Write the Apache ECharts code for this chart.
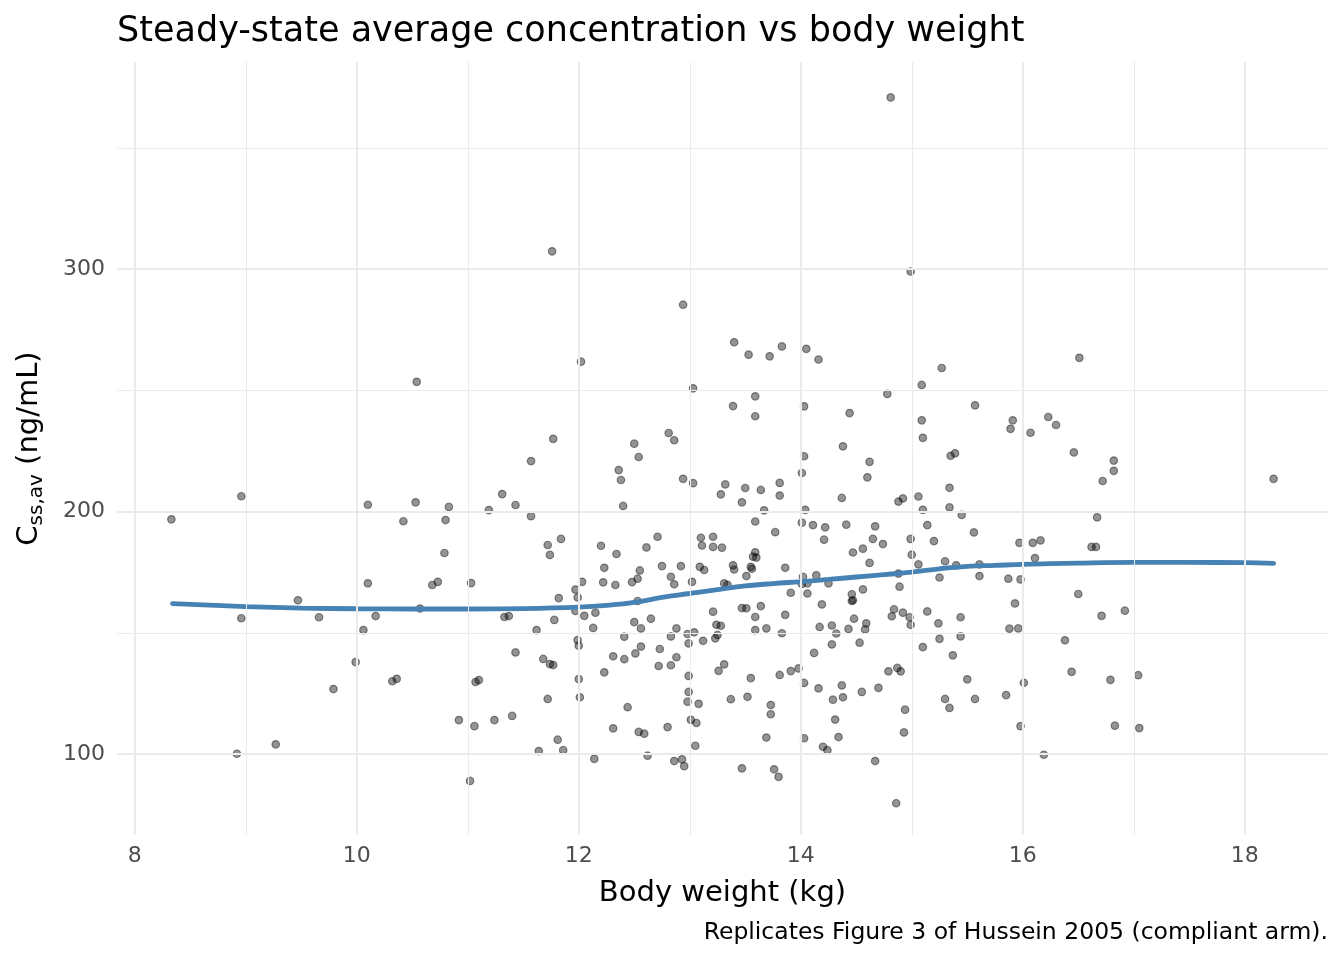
<!DOCTYPE html>
<html>
<head>
<meta charset="utf-8">
<script src="https://cdn.jsdelivr.net/npm/echarts@6/dist/echarts.min.js"></script>
<style>
html,body{margin:0;padding:0;background:#fff;}
#chart{width:1344px;height:960px;}
</style>
</head>
<body>
<div id="chart"></div>
<script>
// ---- data ----
const bodyWeight = [
  8.33, 8.96, 8.96, 8.92, 9.27, 9.47, 9.66, 9.79, 9.99, 10.06, 10.10, 10.10, 10.17, 10.32, 10.36, 10.42, 10.53, 10.54, 10.57,
  10.68, 10.73, 10.79, 10.80, 10.83, 10.92, 11.02, 11.03, 11.06, 11.07,
  11.10, 11.19, 11.24, 11.31, 11.33, 11.37, 11.40, 11.43, 11.43, 11.57,
  11.57, 11.62, 11.64, 11.68, 11.72, 11.72, 11.74, 11.74, 11.77, 11.76,
  11.77, 11.78, 11.81, 11.82, 11.84, 11.86, 11.97, 11.99, 12.03, 11.97,
  12.05, 12.15, 12.13, 11.99, 12.00, 12.00, 12.01, 12.02, 12.14, 12.20,
  12.34, 12.23, 12.22, 12.33, 12.48, 12.53, 12.55, 12.61, 12.71, 12.75,
  12.83, 12.86, 12.92, 13.02, 12.53, 12.50, 12.56, 12.65, 12.41, 12.56,
  12.51, 12.31, 12.41, 12.23, 12.88, 12.83, 12.73, 12.72, 12.83, 12.88,
  12.98, 13.04, 12.99, 12.99, 12.99, 12.98, 13.08, 13.01, 13.06, 13.05,
  12.44, 12.31, 12.54, 12.59, 12.80, 12.62, 12.86, 12.93, 12.95, 12.38,
  12.36, 12.40, 12.94, 13.03, 12.94, 13.03, 12.81, 12.86, 12.50, 12.54,
  14.81, 14.99, 13.40, 13.53, 13.72, 13.83, 14.05, 14.16, 15.27, 15.09,
  13.39, 13.59, 13.59, 14.03, 14.78, 14.44, 15.57, 15.09, 15.10, 14.38,
  14.03, 14.01, 14.62, 14.60, 15.35, 15.39, 15.34, 15.34, 15.45, 15.56,
  15.06, 15.10, 15.14, 15.20, 14.99, 15.00, 15.06, 15.30, 15.40, 14.88,
  14.92, 14.37, 13.28, 13.32, 13.50, 13.64, 13.81, 13.81, 13.47, 13.67,
  14.04, 14.01, 14.11, 14.22, 14.41, 14.67, 14.65, 14.74, 14.21, 14.56,
  14.47, 14.62, 13.59, 13.77, 13.21, 13.10, 13.11, 13.21, 13.29, 13.59,
  13.57, 13.60, 13.39, 13.40, 13.55, 13.56, 13.86, 13.09, 13.13, 13.51,
  14.02, 14.14, 14.88, 15.25, 13.31, 13.34, 14.01, 14.06, 14.25, 13.91,
  14.06, 14.46, 14.46, 14.47, 14.56, 14.89, 13.21, 13.47, 13.51, 13.64,
  13.59, 13.86, 14.19, 13.24, 13.28, 13.59, 13.69, 13.83, 13.12, 13.23,
  13.25, 14.17, 14.28, 14.32, 14.43, 14.48, 14.59, 14.58, 14.28, 14.53,
  14.12, 14.82, 14.84, 14.92, 14.98, 14.99, 15.14, 15.24, 15.44, 15.25,
  15.44, 15.10, 15.37, 15.50, 15.57, 15.30, 15.34, 13.31, 13.26, 13.81,
  13.91, 13.98, 13.55, 14.03, 14.16, 14.37, 14.38, 14.29, 14.55, 14.70,
  14.79, 14.87, 14.90, 14.94, 14.93, 13.37, 13.52, 13.73, 13.73, 14.31,
  14.34, 14.03, 13.69, 14.20, 14.24, 13.47, 13.76, 13.80, 14.67, 14.86,
  16.51, 15.91, 15.89, 16.07, 16.23, 16.30, 16.46, 16.82, 16.82, 16.72,
  18.26, 16.67, 16.62, 16.66, 15.97, 16.09, 16.16, 16.11, 15.61, 15.61,
  15.87, 15.98, 15.93, 16.50, 16.71, 16.92, 15.88, 15.96, 16.38, 16.44,
  16.79, 17.04, 16.01, 15.85, 15.98, 16.83, 17.05, 16.19
];
const concentration = [
  196.8, 206.3, 156.0, 100.1, 104.0, 163.4, 156.4, 126.8, 137.9, 151.1, 202.8, 170.4, 156.9, 130.0, 131.0, 196.0, 203.8, 253.5, 160.0,
  169.7, 171.0, 182.9, 196.5, 201.9, 114.0, 88.9, 170.5, 111.5, 129.7,
  130.5, 200.6, 114.0, 207.2, 156.5, 156.9, 115.7, 141.9, 202.7, 220.8,
  198.1, 151.1, 101.2, 139.2, 122.7, 186.2, 182.1, 137.1, 136.7, 307.3,
  230.0, 155.3, 105.9, 164.3, 188.7, 101.6, 167.8, 164.6, 171.0, 159.0,
  157.0, 158.3, 152.0, 147.0, 144.7, 130.9, 123.4, 261.8, 98.0, 185.9,
  182.5, 176.8, 170.8, 169.7, 170.9, 172.3, 175.7, 185.2, 189.6, 177.5,
  173.1, 170.0, 177.5, 171.0, 163.1, 154.4, 151.8, 155.8, 148.4, 144.3,
  141.5, 140.3, 139.1, 133.7, 151.8, 148.5, 143.3, 136.3, 136.6, 139.9,
  149.5, 150.2, 145.6, 132.2, 125.6, 121.6, 120.7, 114.1, 112.8, 103.4,
  119.3, 110.6, 109.1, 108.4, 111.1, 99.3, 97.1, 97.8, 95.0, 213.0,
  217.1, 202.3, 213.5, 211.7, 285.3, 250.8, 232.4, 229.4, 228.0, 222.5,
  370.8, 299.0, 269.8, 264.7, 264.0, 268.1, 267.1, 262.7, 259.2, 252.2,
  243.5, 247.5, 239.3, 243.4, 248.5, 240.6, 243.8, 237.6, 230.4, 226.9,
  222.8, 215.9, 220.5, 214.1, 223.0, 224.0, 209.8, 201.7, 198.6, 191.4,
  206.2, 200.7, 194.4, 187.8, 188.7, 182.2, 178.2, 179.5, 177.8, 204.1,
  205.4, 205.6, 207.1, 211.2, 209.7, 208.9, 211.8, 206.6, 203.8, 200.5,
  200.7, 195.4, 194.4, 193.5, 194.6, 193.9, 188.7, 186.6, 188.4, 184.7,
  183.1, 178.8, 195.9, 191.5, 189.6, 189.2, 186.0, 185.4, 185.1, 183.2,
  181.4, 181.0, 177.8, 176.1, 177.2, 176.4, 176.8, 177.2, 175.9, 173.4,
  173.1, 173.7, 174.4, 172.8, 170.4, 169.8, 170.1, 170.4, 170.4, 166.5,
  166.2, 165.9, 163.1, 163.4, 167.9, 169.0, 158.7, 160.2, 160.1, 161.0,
  156.5, 157.4, 161.7, 153.3, 152.9, 151.1, 151.8, 149.8, 146.7, 147.7,
  149.1, 152.4, 153.0, 149.7, 151.6, 155.8, 153.9, 151.4, 145.2, 145.9,
  141.7, 156.8, 159.7, 158.3, 156.4, 153.3, 158.8, 153.9, 156.4, 147.5,
  148.5, 144.1, 140.7, 130.8, 122.7, 122.7, 119.0, 137.0, 134.3, 132.6,
  134.2, 135.3, 131.3, 129.3, 127.1, 128.3, 123.4, 122.4, 125.6, 127.3,
  134.1, 135.5, 134.1, 118.3, 108.9, 122.6, 123.6, 120.2, 116.4, 114.2,
  107.0, 106.5, 106.8, 103.0, 101.6, 94.1, 93.7, 90.6, 97.1, 79.7,
  263.4, 237.6, 234.1, 232.5, 239.0, 235.7, 224.4, 221.0, 216.8, 212.6,
  213.5, 197.6, 185.4, 185.4, 187.1, 187.1, 188.1, 180.8, 178.2, 173.4,
  172.3, 172.0, 162.1, 166.0, 157.0, 159.1, 151.7, 151.8, 146.9, 133.9,
  130.6, 132.5, 129.4, 124.3, 111.5, 111.7, 110.7, 99.7
];
// smoothed trend (loess)
const smoothX = [8.34, 9.0, 9.5, 10.0, 10.5, 11.0, 11.5, 12.0, 12.25, 12.5, 12.75, 13.0, 13.25, 13.5, 13.75, 14.0, 14.25, 14.5, 14.75, 15.0, 15.25, 15.5, 15.75, 16.0, 16.5, 17.0, 17.5, 18.0, 18.26];
const smoothY = [162.0, 160.8, 160.2, 159.9, 159.8, 159.8, 160.0, 160.6, 161.3, 162.5, 164.6, 166.2, 167.8, 169.3, 170.3, 171.1, 172.0, 173.0, 174.0, 175.0, 176.4, 177.4, 177.8, 178.2, 178.7, 179.0, 179.0, 178.9, 178.6];
// axis ticks
const xMajorTicks = [8, 10, 12, 14, 16, 18];
const xMinorTicks = [9, 11, 13, 15, 17];
const yMajorTicks = [100, 200, 300];
const yMinorTicks = [150, 250, 350];

const titleText = 'Steady-state average concentration vs body weight';
const captionText = 'Replicates Figure 3 of Hussein 2005 (compliant arm).';
const xTitle = 'Body weight (kg)';

// ---- chart ----
const FONT = 'DejaVu Sans';
const chart = echarts.init(document.getElementById('chart'), null, {renderer: 'canvas'});

const pts = bodyWeight.map((x, i) => [x, concentration[i]]);
const smooth = smoothX.map((x, i) => [x, smoothY[i]]);

const gridLines = []
  .concat(xMajorTicks.map(v => ({xAxis: v, lineStyle: {width: 2}})))
  .concat(xMinorTicks.map(v => ({xAxis: v, lineStyle: {width: 1}})))
  .concat(yMajorTicks.map(v => ({yAxis: v, lineStyle: {width: 2}})))
  .concat(yMinorTicks.map(v => ({yAxis: v, lineStyle: {width: 1}})));

chart.setOption({
  animation: false,
  backgroundColor: '#ffffff',
  textStyle: {fontFamily: FONT},
  title: [
    {text: titleText, left: 117, top: 14, padding: 0,
     textStyle: {fontFamily: FONT, fontSize: 35, fontWeight: 'normal', color: '#000'}},
    {text: captionText, right: 16, top: 921, padding: 0,
     textStyle: {fontFamily: FONT, fontSize: 23.5, fontWeight: 'normal', color: '#000'}}
  ],
  grid: {left: 117, right: 16, top: 62, bottom: 125, containLabel: false},
  xAxis: {
    type: 'value', min: 7.84, max: 18.75,
    name: xTitle, nameLocation: 'middle', nameGap: 44,
    nameTextStyle: {fontFamily: FONT, fontSize: 29, color: '#000'},
    axisLine: {show: false}, axisTick: {show: false},
    splitLine: {show: false},
    axisLabel: {customValues: xMajorTicks, fontFamily: FONT, fontSize: 22, color: '#4D4D4D', margin: 10}
  },
  yAxis: {
    type: 'value', min: 66.6, max: 385.4,
    name: '{n|C}{s|ss,av}{n| (ng/mL)}', nameLocation: 'middle', nameGap: 70, nameRotate: 90,
    nameTextStyle: {
      fontFamily: FONT, color: '#000',
      rich: {
        n: {fontFamily: FONT, fontSize: 29, color: '#000', lineHeight: 36},
        s: {fontFamily: FONT, fontSize: 20, color: '#000', lineHeight: 20, verticalAlign: 'bottom'}
      }
    },
    axisLine: {show: false}, axisTick: {show: false},
    splitLine: {show: false},
    axisLabel: {customValues: yMajorTicks, fontFamily: FONT, fontSize: 22, color: '#4D4D4D', margin: 12}
  },
  series: [
    {
      type: 'line', data: [], z: 0, silent: true,
      markLine: {
        silent: true, symbol: ['none', 'none'], animation: false,
        label: {show: false},
        lineStyle: {color: '#EBEBEB', type: 'solid'},
        emphasis: {disabled: true},
        data: gridLines
      }
    },
    {
      type: 'scatter', data: pts, z: 3, symbol: 'circle', symbolSize: 7.5,
      itemStyle: {color: 'rgba(0,0,0,0.42)', borderColor: 'rgba(0,0,0,0.42)', borderWidth: 1.2, opacity: 1}
    },
    {
      type: 'line', data: smooth, z: 4, smooth: 0.4, showSymbol: false, symbol: 'none',
      lineStyle: {color: '#4682B4', width: 4.8, cap: 'round'}
    }
  ]
});
</script>
</body>
</html>
